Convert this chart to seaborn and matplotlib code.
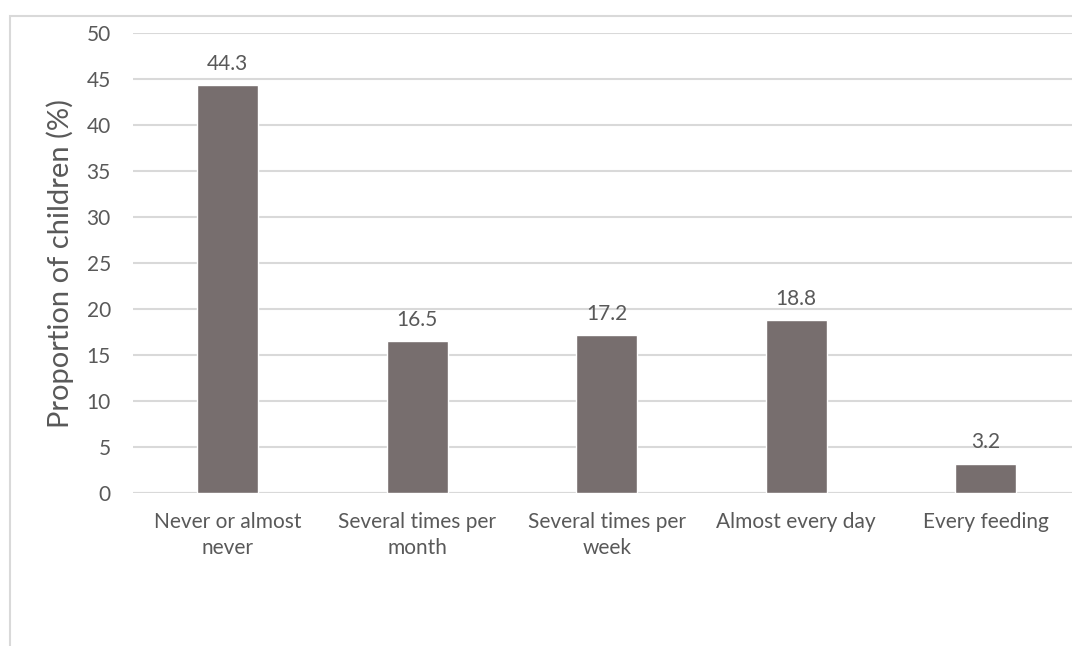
import matplotlib
matplotlib.use('Agg')
import matplotlib.pyplot as plt
import seaborn as sns
import pandas as pd
from matplotlib.patches import Rectangle

categories = ['Never or almost\nnever', 'Several times per\nmonth', 'Several times per\nweek',
              'Almost every day', 'Every feeding']
proportions = [44.3, 16.5, 17.2, 18.8, 3.2]
yticks = [0, 5, 10, 15, 20, 25, 30, 35, 40, 45, 50]

sns.set_style('white')
plt.rcParams['font.family'] = ['Lato', 'DejaVu Sans']
txt = '#595959'

df = pd.DataFrame({'cat': categories, 'val': proportions})

fig = plt.figure(figsize=(10.72, 6.46), dpi=100)
W, H = 1072, 646
# outer chart border
fig.patches.append(Rectangle((10 / W, -0.1), 1.2, 1 - 16 / H + 0.1, transform=fig.transFigure,
                             fill=False, edgecolor='#D9D9D9', lw=1.5, zorder=0))

ax = fig.add_axes([133 / W, 1 - 493 / H, 947.5 / W, 460 / H])
sns.barplot(data=df, x='cat', y='val', color='#776E6E', width=0.32, saturation=1, ax=ax, zorder=3)

for i, v in enumerate(proportions):
    ax.annotate(f'{v}', (i, v), xytext=(0, 8), textcoords='offset points',
                ha='center', va='bottom', fontsize=15, color=txt)

ax.set_ylim(0, 50)
ax.set_yticks(yticks)
ax.yaxis.grid(True, color='#D9D9D9', lw=1.5, zorder=0)
ax.set_axisbelow(True)
for s in ax.spines.values():
    s.set_visible(False)
ax.axhline(0, color='#D9D9D9', lw=1.5, zorder=1)
ax.tick_params(axis='both', length=0, labelsize=15, labelcolor=txt)
ax.tick_params(axis='y', pad=16)
ax.tick_params(axis='x', pad=14)
for lab in ax.get_xticklabels():
    lab.set_linespacing(1.35)
ax.set_xlabel('')
ax.set_ylabel('Proportion of children (%)', fontsize=21, color=txt, labelpad=9)
ax.set_xlim(-0.5, 4.5)

fig.savefig('out.png', dpi=100)
